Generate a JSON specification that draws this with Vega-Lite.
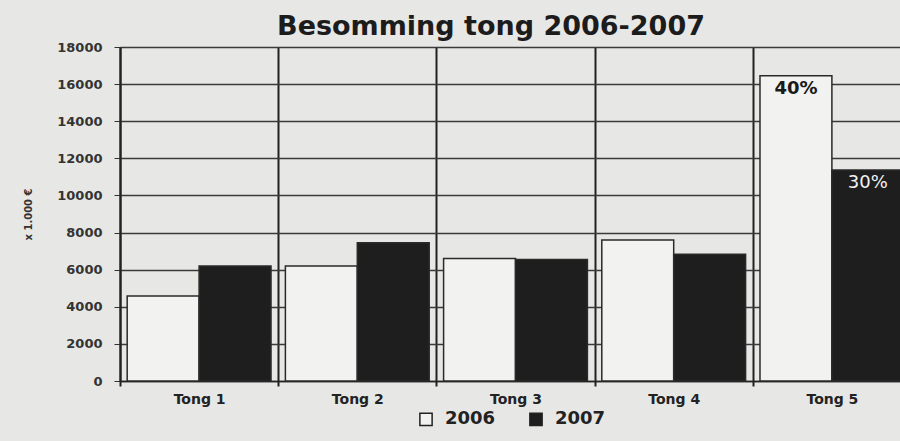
{
  "$schema": "https://vega.github.io/schema/vega-lite/v6.json",
  "width": 780,
  "height": 334,
  "autosize": {"type": "none"},
  "padding": {"left": 120, "top": 47, "right": 0, "bottom": 60},
  "background": "#e7e7e5",
  "config": {"font": "DejaVu Sans", "view": {"stroke": null}},
  "title": {
    "text": "Besomming tong 2006-2007",
    "fontSize": 27,
    "font": "DejaVu Sans",
    "fontWeight": "bold",
    "color": "#1c1c1c",
    "anchor": "middle",
    "frame": "group",
    "dx": -19,
    "dy": 32,
    "baseline": "alphabetic",
    "offset": 11
  },
  "data": {
    "values": [
      {"tong": "Tong 1", "jaar": "2006", "waarde": 4580},
      {"tong": "Tong 1", "jaar": "2007", "waarde": 6200},
      {"tong": "Tong 2", "jaar": "2006", "waarde": 6200},
      {"tong": "Tong 2", "jaar": "2007", "waarde": 7450},
      {"tong": "Tong 3", "jaar": "2006", "waarde": 6600},
      {"tong": "Tong 3", "jaar": "2007", "waarde": 6550},
      {"tong": "Tong 4", "jaar": "2006", "waarde": 7600},
      {"tong": "Tong 4", "jaar": "2007", "waarde": 6830},
      {"tong": "Tong 5", "jaar": "2006", "waarde": 16450, "label": "40%"},
      {"tong": "Tong 5", "jaar": "2007", "waarde": 11370, "label": "30%"}
    ]
  },
  "encoding": {
    "x": {
      "field": "tong",
      "type": "nominal",
      "scale": {"range": [0, 791], "paddingInner": 0, "paddingOuter": 0},
      "axis": {
        "title": null,
        "labelAngle": 0,
        "ticks": true,
        "tickBand": "extent",
        "tickSize": 5,
        "tickWidth": 2,
        "tickColor": "#222",
        "grid": true,
        "gridColor": "#222",
        "gridWidth": 2,
        "domain": true,
        "domainColor": "#222",
        "domainWidth": 1.5,
        "labelFontSize": 14,
        "labelFontWeight": "bold",
        "labelColor": "#222",
        "labelPadding": 6,
        "labelBaseline": "top"
      }
    },
    "xOffset": {
      "field": "jaar",
      "type": "nominal",
      "scale": {"paddingInner": 0, "paddingOuter": 0.1}
    },
    "y": {
      "field": "waarde",
      "type": "quantitative",
      "scale": {"domain": [0, 18000], "nice": false},
      "axis": {
        "title": "x 1.000 €",
        "titleFontSize": 10,
        "titleFontWeight": "bold",
        "titleColor": "#333",
        "titleX": -92,
        "titleY": 167,
        "titleAlign": "center",
        "titleBaseline": "middle",
        "values": [0, 2000, 4000, 6000, 8000, 10000, 12000, 14000, 16000, 18000],
        "labelOverlap": false,
        "format": "d",
        "grid": true,
        "gridColor": "#3a3a3a",
        "gridWidth": 1.3,
        "domain": true,
        "domainColor": "#222",
        "domainWidth": 2,
        "tickSize": 6,
        "tickColor": "#333",
        "labelPadding": 12,
        "labelFontSize": 13,
        "labelFontWeight": "bold",
        "labelColor": "#333"
      }
    }
  },
  "layer": [
    {
      "mark": {"type": "bar", "stroke": "#2a2a2a", "strokeWidth": 1.5},
      "encoding": {
        "color": {
          "field": "jaar",
          "type": "nominal",
          "scale": {"domain": ["2006", "2007"], "range": ["#f2f2f1", "#1e1e1e"]},
          "legend": {
            "title": null,
            "orient": "none",
            "legendX": 297,
            "legendY": 363,
            "direction": "horizontal",
            "symbolType": "square",
            "symbolSize": 150,
            "symbolStrokeColor": "#222",
            "symbolStrokeWidth": 1.5,
            "labelFontSize": 18,
            "labelFontWeight": "bold",
            "labelColor": "#222",
            "labelOffset": 10,
            "columnPadding": 30
          }
        }
      }
    },
    {
      "transform": [{"filter": "datum.label === '40%'"}],
      "mark": {"type": "text", "baseline": "top", "dy": 4, "fontSize": 18, "fontWeight": "bold", "color": "#1a1a1a"},
      "encoding": {
        "text": {"field": "label"}
      }
    },
    {
      "transform": [{"filter": "datum.label === '30%'"}],
      "mark": {"type": "text", "baseline": "top", "dy": 4, "fontSize": 18, "fontWeight": "normal", "color": "#f2f2f2"},
      "encoding": {
        "text": {"field": "label"}
      }
    }
  ]
}
